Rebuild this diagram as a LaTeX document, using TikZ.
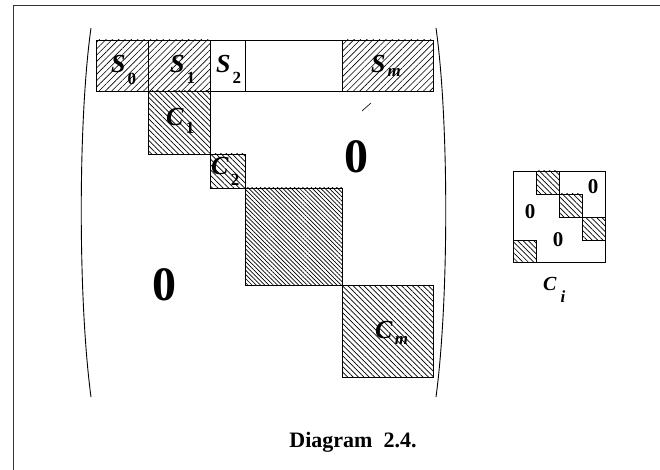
\documentclass[tikz,border=0pt]{standalone}
\usepackage{fontspec}
\setmainfont{Liberation Serif}
\usetikzlibrary{patterns.meta}

\tikzset{
  blk/.style={draw, line width=0.8pt},
  sfill/.style={pattern={Lines[angle=45,distance=4.5pt,line width=0.6pt]}},
  cfill/.style={pattern={Lines[angle=-45,distance=3.8pt,line width=0.7pt]}},
  dfill/.style={pattern={Lines[angle=-45,distance=3pt,line width=0.7pt]}},
  lbl/.style={anchor=base west, inner sep=0pt},
  zero/.style={font=\fontsize{48}{48}\selectfont\bfseries, inner sep=0pt},
  szero/.style={font=\fontsize{21}{21}\selectfont\bfseries, inner sep=0pt}
}
% letter with a dropped subscript
\newcommand{\blklbl}[3]{\fontsize{26}{26}\selectfont\textbf{\textit{#1}}\kern2pt\raisebox{-#3pt}{\fontsize{17}{17}\selectfont\textbf{#2}}}

\begin{document}
\begin{tikzpicture}[x=1pt,y=-1pt]
        \useasboundingbox (0,0) rectangle (660,470);
        % frame
        \draw[line width=0.8pt, black!80] (660,5) -- (13,5) -- (13,470);

        % top row
        \draw[blk, sfill] (96,40) rectangle (148,91);
        \draw[blk, sfill] (148,40) rectangle (210,91);
        \draw[blk] (210,40) rectangle (245,91);
        \draw[blk] (245,40) rectangle (342,91);
        \draw[blk, sfill] (342,40) rectangle (433,91);
        % diagonal blocks
        \draw[blk, cfill] (148,91) rectangle (210,154);
        \draw[blk, cfill] (210,154) rectangle (245,188);
        \draw[blk, dfill] (245,188) rectangle (342,285);
        \draw[blk, cfill] (342,285) rectangle (433,377);
        \draw[line width=0.6pt] (362,111) -- (371,103);

        % labels
        \node[lbl] (s0) at (111,73) {\blklbl{S}{0}{12}};
        \node[lbl] (s1) at (170,73) {\blklbl{S}{1}{11}};
        \node[lbl] (s2) at (216,73) {\blklbl{S}{2}{11}};
        \node[lbl] (sm) at (371,73) {\blklbl{S}{\textit{m}}{4}};
        \node[lbl] (c1) at (166,126) {\blklbl{C}{1}{8}\kern4pt};
        \node[lbl] (c2) at (211,175) {\blklbl{C}{2}{11}};
        \node[lbl] (cm) at (375,338) {\blklbl{C}{\textit{m}}{6}};

        \node[zero] (zup) at (356,157) {0};
        \node[zero] (zlow) at (164,285) {0};

        % parentheses
        \draw[line width=0.9pt] (91,28) .. controls (78,120) and (78,300) .. (91,397);
        \draw[line width=0.9pt] (436,28) .. controls (449,120) and (449,300) .. (436,397);

        % small matrix C_i
        \draw[blk] (513,171) rectangle (605,262);
        \draw[blk, cfill] (536,171) rectangle (559,194);
        \draw[blk, cfill] (559,194) rectangle (582,217);
        \draw[blk, cfill] (582,217) rectangle (605,240);
        \draw[blk, cfill] (513,240) rectangle (536,262);
        \node[szero] (za) at (530,212) {0};
        \node[szero] (zb) at (558,240) {0};
        \node[szero] (zc) at (593,187) {0};
        \node[lbl] (ci) at (543,290) {\fontsize{20}{20}\selectfont\textbf{\textit{C}}\kern4pt\raisebox{-12pt}{\fontsize{17}{17}\selectfont\textbf{\textit{i}}}};

        % caption
        \node[font=\fontsize{22}{22}\selectfont\bfseries, anchor=base] (cap) at (353,447) {Diagram\ \ 2.4.};
    \end{tikzpicture}
\end{document}
